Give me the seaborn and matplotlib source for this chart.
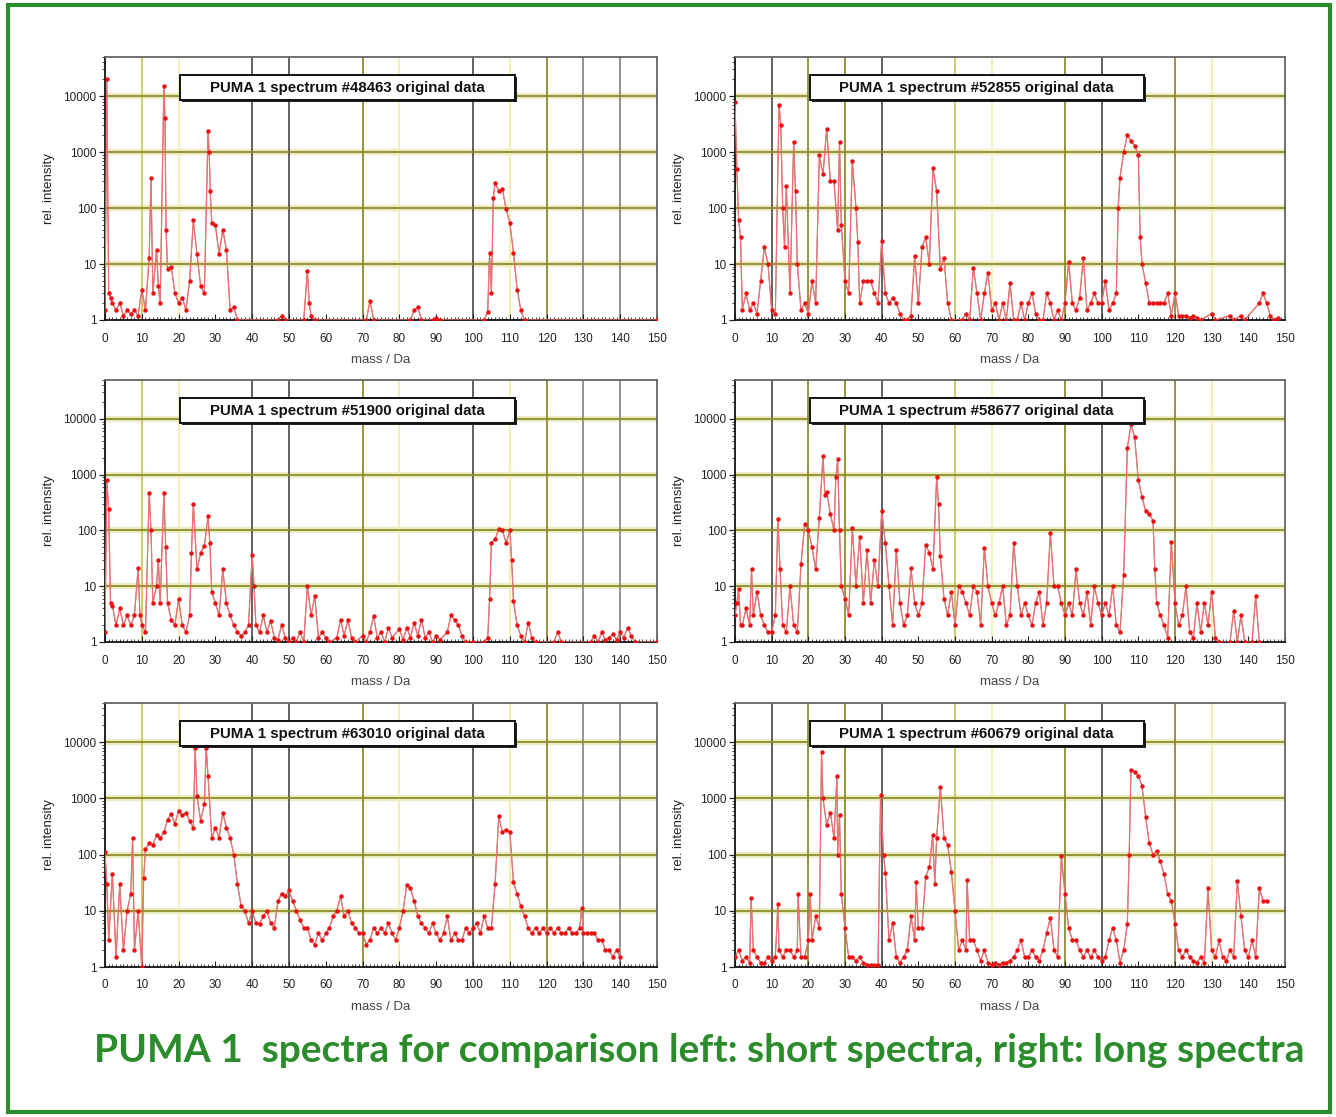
import matplotlib
matplotlib.use("Agg")
import matplotlib.pyplot as plt
import seaborn as sns
import pandas as pd
from matplotlib.patches import Rectangle
from matplotlib.ticker import LogLocator, FixedLocator, MultipleLocator, NullFormatter

# ---------------- data (mass / Da, relative intensity) ----------------
spectrum_48463 = [
    (0, 1.5), (0.5, 20000), (1, 3), (1.5, 2.5), (2, 2), (3, 1.5), (4, 2), (5, 1.2), (6, 1.5),
    (7, 1.3), (8, 1.5), (9, 1.2), (10, 3.5), (11, 1.5), (12, 13), (12.5, 350), (13, 3),
    (14, 18), (14.5, 4), (15, 2), (16, 15000), (16.3, 4000), (16.6, 40), (17, 8), (18, 9),
    (19, 3), (20, 2), (21, 2.5), (22, 1.5), (23, 5), (24, 60), (25, 15), (26, 4), (27, 3),
    (28, 2400), (28.3, 1000), (28.6, 200), (29, 55), (30, 50), (31, 15), (32, 41), (33, 18),
    (34, 1.5), (35, 1.7), (36, 1), (47, 1), (48, 1.2), (49, 1), (54, 1), (55, 7.5), (55.5, 2),
    (56, 1.2), (57, 1), (71, 1), (72, 2.2), (73, 1), (83, 1), (84, 1.5), (85, 1.7), (86, 1),
    (89, 1), (90, 1.1), (91, 1), (103, 1), (104, 1.4), (104.5, 16), (105, 3), (105.5, 150),
    (106, 280), (107, 200), (108, 215), (109, 95), (110, 55), (111, 16), (112, 3.5),
    (113, 1.5), (114, 1), (150, 1),
]

spectrum_52855 = [
    (0, 8000), (0.5, 500), (1, 60), (1.5, 30), (2, 1.5), (3, 3), (4, 1.5), (5, 2), (6, 1.3),
    (7, 5), (8, 20), (9, 10), (10, 1.5), (11, 1.3), (12, 7000), (12.5, 3000), (13, 100),
    (13.5, 20), (14, 250), (15, 3), (16, 1500), (16.5, 200), (17, 10), (18, 1.5), (19, 2),
    (20, 1.3), (21, 5), (22, 2), (23, 870), (24, 400), (25, 2600), (26, 300), (27, 300),
    (28, 40), (28.5, 1500), (29, 50), (30, 5), (31, 3), (32, 690), (33, 100), (33.5, 25),
    (34, 2), (35, 5), (36, 5), (37, 5), (38, 3), (39, 2), (40, 26), (41, 3), (42, 2),
    (43, 2.5), (44, 2), (45, 1.3), (46, 1), (47, 1), (48, 1.2), (49, 14), (50, 2), (51, 20),
    (52, 30), (53, 10), (54, 520), (55, 200), (56, 8), (57, 13), (58, 2), (59, 1), (62, 1),
    (63, 1.3), (64, 1), (65, 8.6), (66, 3), (67, 1), (68, 3), (69, 7), (70, 1.5), (71, 2),
    (72, 1), (73, 2), (74, 1), (75, 4.6), (76, 1), (77, 1), (78, 2), (79, 1), (80, 2),
    (81, 3), (82, 1.3), (83, 1), (84, 1), (85, 3), (86, 2), (87, 1), (88, 1.5), (89, 1),
    (90, 2), (91, 11), (92, 2), (93, 1.5), (94, 2.5), (95, 13), (96, 1.5), (97, 2), (98, 3),
    (99, 2), (100, 2), (101, 5), (102, 1.5), (103, 2), (104, 3), (104.5, 100), (105, 350),
    (106, 1000), (107, 2000), (108, 1600), (109, 1300), (110, 900), (110.5, 30), (111, 10),
    (112, 4.6), (113, 2), (114, 2), (115, 2), (116, 2), (117, 2), (118, 3), (119, 1.2),
    (120, 3), (121, 1.2), (122, 1.2), (123, 1.2), (124, 1.1), (125, 1.2), (126, 1.1),
    (127, 1), (130, 1.3), (131, 1), (135, 1.2), (136, 1), (138, 1.2), (139, 1), (143, 2),
    (144, 3), (145, 2), (146, 1.2), (147, 1), (148, 1.1),
]

spectrum_51900 = [
    (0, 1.5), (0.5, 800), (1, 240), (1.5, 5), (2, 4.5), (3, 2), (4, 4), (5, 2), (6, 3),
    (7, 2), (8, 3), (9, 21), (9.5, 3), (10, 2), (11, 1.5), (12, 480), (12.5, 100), (13, 5),
    (14, 10), (14.5, 30), (15, 5), (16, 480), (16.5, 50), (17, 5), (18, 2.5), (19, 2),
    (20, 6), (21, 2), (22, 1.5), (23, 3), (23.5, 40), (24, 300), (25, 20), (26, 40), (27, 53),
    (28, 180), (28.5, 60), (29, 8), (30, 5), (31, 3), (32, 20), (33, 5), (34, 3), (35, 2),
    (36, 1.5), (37, 1.3), (38, 1.5), (39, 2), (40, 37), (40.5, 10), (41, 2), (42, 1.5),
    (43, 3), (44, 1.5), (45, 2.4), (46, 1.2), (47, 1.1), (48, 2), (49, 1.2), (50, 1),
    (51, 1.2), (52, 1), (53, 1.5), (54, 1), (55, 10), (56, 3), (57, 6.6), (58, 1.2),
    (59, 1.5), (60, 1.2), (61, 1), (63, 1.2), (64, 2.5), (65, 1.3), (66, 2.5), (67, 1.2),
    (68, 1), (70, 1.3), (71, 1), (72, 1.5), (73, 2.9), (74, 1.2), (75, 1.5), (76, 1),
    (77, 1.8), (78, 1.2), (80, 1.7), (81, 1.1), (82, 1.8), (83, 1.2), (84, 2.2), (85, 1.3),
    (86, 2.5), (87, 1.2), (88, 1.5), (89, 1), (90, 1.3), (91, 1.1), (93, 1.5), (94, 3),
    (95, 2.5), (96, 2), (97, 1.3), (98, 1), (100, 1), (103, 1), (104, 1.2), (104.5, 6),
    (105, 60), (106, 70), (107, 105), (108, 100), (109, 60), (110, 100), (110.5, 30),
    (111, 5.4), (112, 2), (113, 1.3), (114, 1), (115, 2.2), (116, 1.2), (117, 1), (122, 1),
    (123, 1.5), (124, 1), (132, 1), (133, 1.3), (134, 1), (135, 1.5), (136, 1.1), (137, 1.2),
    (138, 1.4), (139, 1.1), (140, 1.5), (141, 1.2), (142, 1.8), (143, 1.3), (144, 1), (150, 1),
]

spectrum_58677 = [
    (0, 3), (0.5, 5), (1, 9), (1.5, 2), (2, 2), (3, 4), (4, 2), (4.5, 20), (5, 3), (6, 8),
    (7, 3), (8, 2), (9, 1.5), (10, 1.5), (11, 3), (11.7, 160), (12.3, 20), (13, 2), (14, 1.5),
    (15, 10), (16, 2), (17, 1.5), (18, 25), (19, 130), (20, 100), (21, 50), (22, 20),
    (23, 170), (24, 2200), (24.5, 440), (25, 500), (26, 200), (27, 100), (27.5, 900),
    (28, 1900), (28.5, 100), (29, 10), (30, 6), (31, 3), (32, 110), (33, 10), (34, 77),
    (35, 5), (36, 45), (37, 5), (38, 30), (39, 10), (40, 220), (41, 60), (42, 10), (43, 2),
    (44, 45), (45, 5), (46, 2), (47, 3), (48, 21), (49, 5), (50, 3), (51, 5), (52, 56),
    (53, 40), (54, 20), (55, 900), (55.5, 300), (56, 35), (57, 6), (58, 3), (59, 8), (60, 2),
    (61, 10), (62, 8), (63, 5), (64, 3), (65, 10), (66, 8), (67, 2), (68, 48), (69, 10),
    (70, 5), (71, 3), (72, 5), (73, 10), (74, 2), (75, 3), (76, 60), (77, 10), (78, 3),
    (79, 5), (80, 3), (81, 2), (82, 5), (83, 8), (84, 2), (85, 5), (86, 91), (87, 10),
    (88, 10), (89, 5), (90, 3), (91, 5), (92, 3), (93, 20), (94, 5), (95, 3), (96, 8),
    (97, 2), (98, 10), (99, 5), (100, 3), (101, 5), (102, 3), (103, 10), (104, 2), (105, 1.5),
    (106, 16), (107, 3000), (108, 8000), (109, 4700), (110, 800), (111, 400), (112, 220),
    (113, 200), (114, 150), (114.5, 20), (115, 5), (116, 3), (117, 2), (118, 1.2), (119, 63),
    (120, 5), (121, 2), (122, 3), (123, 10), (124, 1.5), (125, 1.2), (126, 5), (127, 1.5),
    (128, 5), (129, 2), (130, 8), (131, 1.2), (132, 1), (135, 1), (136, 3.6), (137, 1),
    (138, 3), (139, 1), (141, 1), (142, 6.6), (143, 1),
]

spectrum_63010 = [
    (0, 110), (0.5, 30), (1, 3), (2, 46), (3, 1.5), (4, 30), (5, 2), (6, 10), (7, 20),
    (7.5, 200), (8, 2), (9, 10), (10, 1), (10.5, 38), (11, 125), (12, 160), (13, 150),
    (14, 220), (15, 200), (16, 250), (17, 420), (18, 520), (19, 350), (20, 600), (21, 500),
    (22, 550), (23, 400), (24, 300), (24.5, 7900), (25, 1100), (26, 400), (27, 800),
    (27.5, 8000), (28, 2500), (29, 200), (30, 300), (31, 200), (32, 560), (33, 300),
    (34, 200), (35, 100), (36, 30), (37, 12), (38, 10), (39, 6), (40, 10), (41, 6), (42, 5.9),
    (43, 8), (44, 10), (45, 6), (46, 5), (47, 15), (48, 20), (49, 18), (50, 23), (51, 15),
    (52, 10), (53, 7), (54, 5), (55, 5), (56, 3), (57, 2.5), (58, 4), (59, 3), (60, 4),
    (61, 5), (62, 8), (63, 10), (64, 18), (65, 8), (66, 10), (67, 6), (68, 5), (69, 4),
    (70, 4), (71, 2.5), (72, 3), (73, 5), (74, 4), (75, 5), (76, 4), (77, 6), (78, 4),
    (79, 3), (80, 5), (81, 10), (82, 29), (83, 25), (84, 15), (85, 8), (86, 6), (87, 5),
    (88, 4), (89, 6), (90, 4), (91, 3), (92, 4), (93, 8), (94, 3), (95, 4), (96, 3), (97, 3),
    (98, 5), (99, 4), (100, 5), (101, 6), (102, 4), (103, 8), (104, 5), (105, 5), (106, 30),
    (107, 480), (108, 250), (109, 280), (110, 250), (111, 32), (112, 20), (113, 12),
    (114, 8), (115, 5), (116, 4), (117, 5), (118, 4), (119, 5), (120, 4), (121, 5), (122, 4),
    (123, 5), (124, 4), (125, 4), (126, 5), (127, 4), (128, 4), (129, 5), (129.5, 11),
    (130, 4), (131, 4), (132, 4), (133, 4), (134, 3), (135, 3), (136, 2), (137, 2),
    (138, 1.5), (139, 2), (140, 1.5),
]

spectrum_60679 = [
    (0, 1.5), (1, 2), (2, 1.3), (3, 1.5), (4, 1.2), (4.4, 17), (5, 2), (6, 1.5), (7, 1.2),
    (8, 1.2), (9, 1.5), (10, 1.3), (11, 1.5), (11.7, 13), (12, 2), (13, 1.5), (14, 2),
    (15, 2), (16, 1.5), (17, 2), (17.2, 20), (18, 1.5), (19, 1.5), (20, 3), (20.5, 20),
    (21, 3), (22, 8), (23, 5), (23.6, 6600), (24, 1000), (25, 340), (26, 560), (27, 200),
    (27.8, 2500), (28, 100), (28.5, 500), (29, 20), (30, 5), (31, 1.5), (32, 1.5), (33, 1.3),
    (34, 1.5), (35, 1.2), (36, 1.1), (37, 1.1), (38, 1.1), (39, 1.1), (39.7, 1150),
    (40.5, 100), (41, 48), (42, 3), (43, 6), (44, 1.5), (45, 1.2), (46, 1.5), (47, 2),
    (48, 8), (49, 3), (49.4, 32), (50, 5), (51, 5), (52, 40), (53, 60), (53.9, 220),
    (54.5, 30), (55, 200), (56, 1600), (57, 200), (58, 150), (59, 50), (60, 10), (61, 2),
    (62, 3), (63, 2), (63.3, 36), (64, 3), (65, 3), (66, 2), (67, 1.3), (68, 2), (69, 1.2),
    (70, 1.1), (71, 1.2), (72, 1.1), (73, 1.2), (74, 1.2), (75, 1.3), (76, 1.5), (77, 2),
    (78, 3), (79, 1.5), (80, 1.5), (81, 2), (82, 1.5), (83, 1.3), (84, 2), (85, 4), (86, 7.6),
    (87, 2), (88, 1.5), (89, 93), (90, 20), (91, 5), (92, 3), (93, 3), (94, 2), (95, 1.5),
    (96, 2), (97, 1.5), (98, 2), (99, 1.5), (100, 1.3), (101, 1.5), (102, 3), (103, 5),
    (104, 3), (105, 1.2), (106, 2), (107, 5.8), (107.5, 100), (108, 3200), (109, 3000),
    (110, 2500), (111, 1700), (112, 460), (113, 160), (114, 100), (115, 115), (116, 76),
    (117, 45), (118, 20), (119, 15), (120, 5.8), (121, 2), (122, 1.5), (123, 2), (124, 1.5),
    (125, 1.3), (126, 1.2), (127, 1.5), (128, 1.2), (129, 25), (130, 2), (131, 1.5), (132, 3),
    (133, 1.5), (134, 1.3), (135, 2), (136, 1.5), (137, 34), (138, 8), (139, 2), (140, 1.5),
    (141, 3), (142, 1.5), (143, 25), (144, 15), (145, 15),
]

panel_titles = [
    "PUMA 1 spectrum #48463 original data",
    "PUMA 1 spectrum #52855 original data",
    "PUMA 1 spectrum #51900 original data",
    "PUMA 1 spectrum #58677 original data",
    "PUMA 1 spectrum #63010 original data",
    "PUMA 1 spectrum #60679 original data",
]
panel_spectra = [spectrum_48463, spectrum_52855, spectrum_51900,
                 spectrum_58677, spectrum_63010, spectrum_60679]
y_tick_values = [1, 10, 100, 1000, 10000]
y_tick_labels = ["1", "10", "100", "1000", "10000"]
x_tick_values = list(range(0, 151, 10))
x_tick_labels = [str(v) for v in x_tick_values]
caption = "PUMA 1  spectra for comparison left: short spectra, right: long spectra"

# ---------------- styling ----------------
sns.set_theme(style="white")
plt.rcParams["font.family"] = ["Liberation Sans", "DejaVu Sans"]

W, H = 1336, 1117
fig = plt.figure(figsize=(W / 100, H / 100), dpi=100)
fig.patch.set_facecolor("white")

GREEN = "#2b8c2b"
OLIVE = "#8c8c2c"
PALE = "#f0f0b0"
LOLIVE = "#c8c860"
DARK = "#555555"
GREY = "#8a8a8a"

left_vcol = {10: LOLIVE, 20: PALE, 40: DARK, 50: DARK, 70: OLIVE, 80: PALE,
             100: DARK, 110: PALE, 120: OLIVE, 130: GREY, 140: GREY}
right_vcol = {10: DARK, 20: OLIVE, 30: OLIVE, 40: DARK, 60: LOLIVE, 70: PALE,
              90: OLIVE, 100: DARK, 120: OLIVE, 130: PALE}

col_lefts = [105, 735]
col_widths = [552, 550]
row_tops = [57, 380, 703]
row_bottoms = [320, 642, 967]

for i, (spec, title) in enumerate(zip(panel_spectra, panel_titles)):
    r, c = divmod(i, 2)
    l = col_lefts[c] / W
    w = col_widths[c] / W
    b = 1 - row_bottoms[r] / H
    h = (row_bottoms[r] - row_tops[r]) / H
    ax = fig.add_axes([l, b, w, h])
    ax.set_facecolor("white")
    ax.set_yscale("log")
    ax.set_xlim(0, 150)
    ax.set_ylim(1, 5e4)

    # grid lines
    vcol = left_vcol if c == 0 else right_vcol
    for xv, colr in vcol.items():
        ax.axvline(xv, color=colr, lw=1.3, zorder=0.5)
    for yv in y_tick_values[1:]:
        ax.axhline(yv, color="#ececc4", lw=4.5, zorder=0.4)
        ax.axhline(yv, color=OLIVE, lw=1.3, zorder=0.6)

    df = pd.DataFrame(spec, columns=["mass", "intensity"])
    sns.lineplot(data=df, x="mass", y="intensity", ax=ax, estimator=None, sort=False,
                 color="#5a4a4a", lw=0.7, alpha=0.7, zorder=2)
    sns.lineplot(data=df, x="mass", y="intensity", ax=ax, estimator=None, sort=False,
                 color="#f07070", lw=0.9, marker="o", markersize=3.2,
                 markerfacecolor="#e81010", markeredgecolor="#e81010",
                 markeredgewidth=0, zorder=3)

    ax.xaxis.set_major_locator(FixedLocator(x_tick_values))
    ax.set_xticklabels(x_tick_labels)
    ax.xaxis.set_minor_locator(MultipleLocator(1))
    ax.yaxis.set_major_locator(FixedLocator(y_tick_values))
    ax.set_yticklabels(y_tick_labels)
    ax.yaxis.set_minor_locator(LogLocator(base=10, subs=range(2, 10)))
    ax.yaxis.set_minor_formatter(NullFormatter())
    ax.tick_params(axis="x", which="major", direction="in", length=4, width=0.8,
                   labelsize=8.5, colors="#222222", pad=9, bottom=True)
    ax.tick_params(axis="x", which="minor", direction="in", length=2, width=0.6,
                   bottom=True)
    ax.tick_params(axis="y", which="major", direction="out", length=4, width=0.9,
                   labelsize=8.5, colors="#222222", pad=2, left=True)
    ax.tick_params(axis="y", which="minor", direction="out", length=2, width=0.6,
                   left=True)
    for sp in ax.spines.values():
        sp.set_visible(True)
        sp.set_color("#111111")
        sp.set_linewidth(1.3)
    ax.spines["right"].set_color("#666666")
    ax.spines["top"].set_color("#666666")

    ax.set_xlabel("mass / Da", fontsize=9.5, color="#444444", labelpad=7)
    ax.set_ylabel("rel. intensity", fontsize=9.5, color="#222222", labelpad=6)
    ax.grid(False)

    # title box with shadow
    ax.add_patch(Rectangle((0.140, 0.828), 0.607, 0.095, transform=ax.transAxes,
                           facecolor="#222222", edgecolor="none", zorder=5,
                           clip_on=False))
    ax.add_patch(Rectangle((0.136, 0.836), 0.607, 0.095, transform=ax.transAxes,
                           facecolor="white", edgecolor="#111111", lw=1.4, zorder=6,
                           clip_on=False))
    ax.text(0.4395, 0.8835, title, transform=ax.transAxes, ha="center", va="center",
            fontsize=10.8, fontweight="bold", color="#111111", zorder=7)

fig.text((93 + 1305) / 2 / W, 1 - 1050 / H, caption, ha="center", va="center",
         fontsize=28, fontweight="bold", color=GREEN, family=["Lato", "DejaVu Sans"])

fig.patches.append(Rectangle((8 / W, 1 - 1112 / H), (1330 - 8) / W, (1112 - 5) / H,
                             transform=fig.transFigure, fill=False,
                             edgecolor=GREEN, lw=3))

fig.savefig("out.png", dpi=100, facecolor="white")
